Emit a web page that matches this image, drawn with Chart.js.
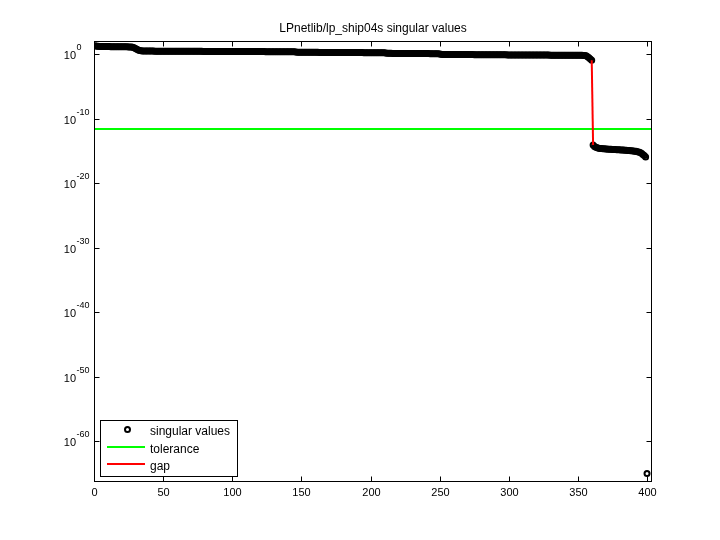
<!DOCTYPE html>
<html>
<head>
<meta charset="utf-8">
<style>
  html, body { margin: 0; padding: 0; background: #fff; }
  #wrap { width: 720px; height: 540px; }
</style>
</head>
<body>
<div id="wrap"><canvas id="chart" width="720" height="540"></canvas></div>
<script src="https://cdn.jsdelivr.net/npm/chart.js@4/dist/chart.umd.min.js"></script>
<script>
'use strict';

const titleText = 'LPnetlib/lp_ship04s singular values';

// singular values, rank 1..400
const singularValues = [
  22, 18, 17, 16.5, 16.2, 16, 15.9, 15.8, 15.7, 15.6,
  15.5, 15.4, 15.3, 15.2, 15.1, 15, 14.9, 14.8, 14.7, 14.6,
  14.5, 14.4, 14.3, 14.2, 14.0, 13.8, 13.2, 12.0, 10.0, 8.0,
  6.0, 4.5, 3.8, 3.4, 3.25, 3.18, 3.16, 3.15, 3.14, 3.13,
  3.12, 3.11, 3.10, 3.09, 3.08, 3.07, 3.06, 3.06, 3.05, 3.04,
  3.03, 3.02, 3.01, 3.00, 2.99, 2.99, 2.98, 2.97, 2.96, 2.95,
  2.95, 2.94, 2.93, 2.92, 2.92, 2.91, 2.90, 2.89, 2.89, 2.88,
  2.87, 2.87, 2.86, 2.85, 2.85, 2.84, 2.83, 2.83, 2.82, 2.81,
  2.81, 2.80, 2.80, 2.79, 2.78, 2.78, 2.77, 2.77, 2.76, 2.75,
  2.75, 2.74, 2.74, 2.73, 2.73, 2.72, 2.72, 2.71, 2.71, 2.70,
  2.70, 2.69, 2.69, 2.68, 2.68, 2.67, 2.67, 2.66, 2.66, 2.65,
  2.65, 2.64, 2.64, 2.63, 2.63, 2.62, 2.62, 2.61, 2.61, 2.60,
  2.60, 2.59, 2.59, 2.58, 2.58, 2.57, 2.57, 2.56, 2.56, 2.55,
  2.55, 2.54, 2.54, 2.53, 2.53, 2.52, 2.52, 2.51, 2.50, 2.49,
  2.48, 2.47, 2.46, 2.44, 2.40, 2.30, 2.15,
  2.05, 2.04, 2.04, 2.03, 2.03, 2.02, 2.02, 2.01, 2.01, 2.00,
  2.00, 1.99, 1.99, 1.98, 1.98, 1.97, 1.97, 1.96, 1.96, 1.95,
  1.95, 1.94, 1.94, 1.93, 1.93, 1.92, 1.92, 1.91, 1.91, 1.90,
  1.90, 1.89, 1.89, 1.88, 1.88, 1.87, 1.87, 1.86, 1.86, 1.85,
  1.85, 1.84, 1.84, 1.83, 1.83, 1.82, 1.82, 1.81, 1.81, 1.80,
  1.80, 1.79, 1.79, 1.78, 1.78, 1.77, 1.77, 1.76, 1.76, 1.75,
  1.74, 1.73, 1.70, 1.62, 1.50,
  1.40, 1.39, 1.39, 1.38, 1.38, 1.37, 1.37, 1.36, 1.36, 1.35,
  1.35, 1.34, 1.34, 1.33, 1.33, 1.32, 1.32, 1.31, 1.31, 1.30,
  1.30, 1.30, 1.29, 1.29, 1.28, 1.28, 1.28, 1.27, 1.27, 1.27,
  1.26, 1.26, 1.26, 1.25, 1.25, 1.24, 1.22, 1.15, 1.05,
  0.96, 0.96, 0.95, 0.95, 0.95, 0.94, 0.94, 0.94, 0.93, 0.93,
  0.93, 0.92, 0.92, 0.92, 0.91, 0.91, 0.91, 0.90, 0.90, 0.90,
  0.89, 0.89, 0.89, 0.88, 0.88, 0.88, 0.87, 0.87, 0.87, 0.86,
  0.86, 0.86, 0.86, 0.85, 0.85, 0.85, 0.84, 0.84, 0.84, 0.84,
  0.83, 0.83, 0.83, 0.82, 0.82, 0.82, 0.82, 0.81, 0.81, 0.81,
  0.81, 0.80, 0.80, 0.80, 0.80, 0.79, 0.79, 0.79, 0.79, 0.78,
  0.78, 0.78, 0.78, 0.78, 0.77, 0.77, 0.77, 0.77, 0.76, 0.76,
  0.76, 0.76, 0.76, 0.75, 0.75, 0.75, 0.75, 0.75, 0.74, 0.74,
  0.74, 0.74, 0.74, 0.73, 0.73, 0.73, 0.73, 0.73, 0.72, 0.72,
  0.72, 0.72, 0.72, 0.71, 0.71, 0.71, 0.71, 0.70, 0.70,
  0.70, 0.69, 0.68, 0.67, 0.64, 0.57, 0.42, 0.28, 0.18, 0.115,
  8.5e-15,
  5.0e-15, 3.8e-15, 3.2e-15, 2.8e-15, 2.5e-15, 2.4e-15, 2.3e-15, 2.2e-15, 2.1e-15, 2.0e-15,
  1.95e-15, 1.9e-15, 1.85e-15, 1.8e-15, 1.75e-15, 1.7e-15, 1.65e-15, 1.6e-15, 1.55e-15, 1.5e-15,
  1.45e-15, 1.4e-15, 1.35e-15, 1.3e-15, 1.25e-15, 1.2e-15, 1.15e-15, 1.1e-15, 1.0e-15, 9.5e-16,
  9.0e-16, 8.0e-16, 7.0e-16, 6.0e-16, 4.5e-16, 3.0e-16, 2.0e-16, 1.2e-16,
  1e-65
];

const tolerance = 2.5e-12;
const gapRank = [360, 361];
const gapValues = [0.115, 8.5e-15];

const xTicks = [0, 50, 100, 150, 200, 250, 300, 350, 400];
const yTickExponents = [0, -10, -20, -30, -40, -50, -60];
const legendLabels = ['singular values', 'tolerance', 'gap'];

const xMin = 0, xMax = 403.6;
const FONT = '"Liberation Sans", Arial, sans-serif';

// axes, ticks, title and legend drawn MATLAB style
const matlabFrame = {
  id: 'matlabFrame',
  beforeDraw(chart) {
    const ctx = chart.ctx;
    ctx.save();
    ctx.fillStyle = '#fff';
    ctx.fillRect(0, 0, chart.width, chart.height);
    ctx.restore();
  },
  afterDatasetsDraw(chart) {
    const ctx = chart.ctx;
    const a = chart.chartArea;
    const xs = chart.scales.x;
    const ys = chart.scales.y;
    const L = a.left + 0.5, R = a.right - 0.5, T = a.top + 0.5, B = a.bottom - 0.5;
    ctx.save();
    ctx.strokeStyle = '#000';
    ctx.lineWidth = 1;
    ctx.strokeRect(L, T, R - L, B - T);

    ctx.fillStyle = '#000';
    ctx.font = '11px ' + FONT;
    ctx.textAlign = 'center';
    ctx.textBaseline = 'alphabetic';
    xTicks.forEach(v => {
      const px = Math.round(xs.getPixelForValue(v)) + 0.5;
      ctx.beginPath();
      ctx.moveTo(px, B); ctx.lineTo(px, B - 5);
      ctx.moveTo(px, T); ctx.lineTo(px, T + 5);
      ctx.stroke();
      ctx.fillText(String(v), px, 496);
    });

    yTickExponents.forEach(e => {
      const py = Math.round(ys.getPixelForValue(Math.pow(10, e))) + 0.5;
      ctx.beginPath();
      ctx.moveTo(L, py); ctx.lineTo(L + 5, py);
      ctx.moveTo(R, py); ctx.lineTo(R - 5, py);
      ctx.stroke();
      ctx.font = '11px ' + FONT;
      ctx.textAlign = 'right';
      ctx.fillText('10', 76, py + 4);
      ctx.font = '9px ' + FONT;
      ctx.textAlign = 'left';
      ctx.fillText(String(e), 76.5, py - 5);
    });

    // title
    ctx.font = '12px ' + FONT;
    ctx.textAlign = 'center';
    ctx.fillText(titleText, (a.left + a.right) / 2, 32);

    // legend
    ctx.fillStyle = '#fff';
    ctx.fillRect(100.5, 420.5, 137, 56);
    ctx.strokeRect(100.5, 420.5, 137, 56);
    ctx.fillStyle = '#000';
    ctx.textAlign = 'left';
    ctx.font = '12px ' + FONT;
    ctx.lineWidth = 2;
    ctx.beginPath();
    ctx.arc(127.5, 429.5, 2.5, 0, Math.PI * 2);
    ctx.stroke();
    ctx.fillText(legendLabels[0], 150, 435);
    ctx.strokeStyle = '#00ff00';
    ctx.beginPath(); ctx.moveTo(107, 447); ctx.lineTo(145, 447); ctx.stroke();
    ctx.fillText(legendLabels[1], 150, 453);
    ctx.strokeStyle = '#ff0000';
    ctx.beginPath(); ctx.moveTo(107, 464); ctx.lineTo(145, 464); ctx.stroke();
    ctx.fillText(legendLabels[2], 150, 470);
    ctx.restore();
  }
};

const ctx = document.getElementById('chart');
new Chart(ctx, {
  type: 'scatter',
  data: {
    datasets: [
      {
        label: legendLabels[0],
        data: singularValues.map((v, i) => ({ x: i + 1, y: v })),
        showLine: false,
        pointStyle: 'circle',
        pointRadius: 2.5,
        pointBorderWidth: 2,
        pointBorderColor: '#000',
        pointBackgroundColor: 'rgba(0,0,0,0)',
        order: 2
      },
      {
        label: legendLabels[1],
        data: [{ x: xMin, y: tolerance }, { x: xMax, y: tolerance }],
        showLine: true,
        borderColor: '#00ff00',
        borderWidth: 2,
        pointRadius: 0,
        order: 1
      },
      {
        label: legendLabels[2],
        data: gapRank.map((r, i) => ({ x: r, y: gapValues[i] })),
        showLine: true,
        borderColor: '#ff0000',
        borderWidth: 2,
        pointRadius: 0,
        order: 0
      }
    ]
  },
  options: {
    responsive: false,
    animation: false,
    devicePixelRatio: 1,
    layout: { padding: { left: 94, top: 41, right: 68, bottom: 58 } },
    scales: {
      x: { type: 'linear', min: xMin, max: xMax, display: false },
      y: { type: 'logarithmic', min: Math.pow(10, -66.31), max: Math.pow(10, 2.06), display: false }
    },
    plugins: {
      legend: { display: false },
      tooltip: { enabled: false }
    }
  },
  plugins: [matlabFrame]
});
</script>
</body>
</html>
